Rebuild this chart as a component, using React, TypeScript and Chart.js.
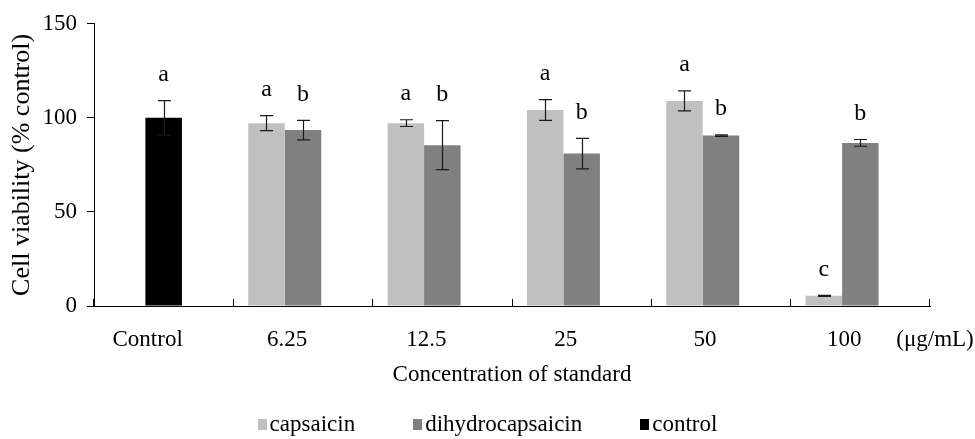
import React, { useEffect, useRef } from 'react';
import { Chart, registerables } from 'chart.js';

Chart.register(...registerables);

// Categories along the concentration axis
const categories = ['Control', '6.25', '12.5', '25', '50', '100'];

// Cell viability (% of control), mean and error per concentration
const capsaicin = [null, 97.2, 97.2, 104.2, 109.0, 5.4];
const capsaicinErr = [null, 4.0, 1.8, 5.5, 5.3, 0.3];
const capsaicinLetters = ['', 'a', 'a', 'a', 'a', 'c'];

const dihydrocapsaicin = [null, 93.5, 85.5, 81.0, 90.6, 86.7];
const dihydrocapsaicinErr = [null, 5.2, 13.0, 8.1, 0.4, 1.8];
const dihydrocapsaicinLetters = ['', 'b', 'b', 'b', 'b', 'b'];

const control = [100, null, null, null, null, null];
const controlErr = [9.2, null, null, null, null, null];
const controlLetters = ['a', '', '', '', '', ''];

const seriesNames = ['capsaicin', 'dihydrocapsaicin', 'control'];
const seriesColors = ['#c0c0c0', '#808080', '#000000'];

const yTicks = [0, 50, 100, 150];
const unitLabel = '(\u03bcg/mL)';

const FONT = "'Liberation Serif', 'Times New Roman', serif";
const TICK_SIZE = 23;
const LETTER_SIZE = 24;
const X_TICK_LEN = -7; // category ticks point up into the plot
const X_TICK_PAD = 27;

// Draws error whiskers, significance letters and the unit label
const annotatePlugin = {
  id: 'annotate',
  afterDatasetsDraw(chart: any) {
    const { ctx } = chart;
    const yScale = chart.scales.y;
    const xScale = chart.scales.x;
    ctx.save();
    chart.data.datasets.forEach((ds: any, di: number) => {
      const meta = chart.getDatasetMeta(di);
      meta.data.forEach((bar: any, i: number) => {
        const v = ds.data[i];
        if (v == null) return;
        const e = (ds.errors && ds.errors[i]) || 0;
        const yTop = yScale.getPixelForValue(v + e);
        const yBot = yScale.getPixelForValue(v - e);
        const x = Math.round(bar.x) + 0.5;
        ctx.strokeStyle = '#1a1a1a';
        ctx.lineWidth = 1.2;
        ctx.beginPath();
        ctx.moveTo(x, yTop);
        ctx.lineTo(x, yBot);
        ctx.moveTo(x - 6.5, yTop);
        ctx.lineTo(x + 6.5, yTop);
        ctx.moveTo(x - 6.5, yBot);
        ctx.lineTo(x + 6.5, yBot);
        ctx.stroke();
        const letter = ds.letters && ds.letters[i];
        if (letter) {
          ctx.fillStyle = '#000';
          ctx.font = `${LETTER_SIZE}px ${FONT}`;
          ctx.textAlign = 'center';
          ctx.textBaseline = 'middle';
          ctx.fillText(letter, bar.x, yTop - 26);
        }
      });
    });
    // unit of the concentration axis, level with the tick labels
    ctx.fillStyle = '#000';
    ctx.font = `${TICK_SIZE}px ${FONT}`;
    ctx.textAlign = 'center';
    ctx.textBaseline = 'middle';
    ctx.fillText(unitLabel, xScale.right + 5, xScale.top + X_TICK_LEN + X_TICK_PAD + (TICK_SIZE * 1.2) / 2);
    ctx.restore();
  },
};

export default function App() {
  const canvasRef = useRef<HTMLCanvasElement | null>(null);

  useEffect(() => {
    if (!canvasRef.current) return;
    const chart = new Chart(canvasRef.current, {
      type: 'bar',
      data: {
        labels: categories,
        datasets: [
          {
            label: seriesNames[0],
            data: capsaicin,
            backgroundColor: seriesColors[0],
            categoryPercentage: 0.786,
            barPercentage: 1,
            errors: capsaicinErr,
            letters: capsaicinLetters,
          } as any,
          {
            label: seriesNames[1],
            data: dihydrocapsaicin,
            backgroundColor: seriesColors[1],
            categoryPercentage: 0.786,
            barPercentage: 1,
            errors: dihydrocapsaicinErr,
            letters: dihydrocapsaicinLetters,
          } as any,
          {
            // the control stands alone in its group, so it is centred there
            label: seriesNames[2],
            data: control,
            backgroundColor: seriesColors[2],
            categoryPercentage: 0.786,
            barPercentage: 0.334,
            skipNull: true,
            errors: controlErr,
            letters: controlLetters,
          } as any,
        ],
      },
      options: {
        animation: false,
        responsive: true,
        maintainAspectRatio: false,
        layout: { padding: { top: 20, right: 45, bottom: 39, left: 0 } },
        plugins: {
          legend: { display: false },
          tooltip: { enabled: false },
        },
        scales: {
          x: {
            grid: {
              display: true,
              offset: true,
              drawOnChartArea: false,
              drawTicks: true,
              tickLength: X_TICK_LEN,
              color: '#000',
              tickColor: '#000',
              lineWidth: 1,
            },
            border: { display: true, color: '#000', width: 1 },
            ticks: {
              font: { family: FONT, size: TICK_SIZE },
              color: '#000',
              padding: X_TICK_PAD,
              labelOffset: -16,
              maxRotation: 0,
              autoSkip: false,
            },
            title: {
              display: true,
              text: 'Concentration of standard',
              font: { family: FONT, size: 23 },
              color: '#000',
              padding: { top: 0, bottom: 11 },
            },
            afterFit: (s: any) => {
              s.height = 94;
            },
          },
          y: {
            min: yTicks[0],
            max: yTicks[yTicks.length - 1],
            afterBuildTicks: (s: any) => {
              s.ticks = yTicks.map((v) => ({ value: v }));
            },
            ticks: {
              font: { family: FONT, size: TICK_SIZE },
              color: '#000',
              padding: 10,
            },
            grid: {
              drawOnChartArea: false,
              drawTicks: true,
              tickLength: 7,
              color: '#000',
              tickColor: '#000',
            },
            border: { display: true, color: '#000', width: 1 },
            title: {
              display: true,
              text: 'Cell viability (% control)',
              font: { family: FONT, size: 26 },
              color: '#000',
              padding: { top: 7, bottom: 0 },
            },
            afterFit: (s: any) => {
              s.width = 94;
            },
          },
        },
      } as any,
      plugins: [annotatePlugin],
    });
    return () => chart.destroy();
  }, []);

  return (
    <div
      style={{
        position: 'fixed',
        left: 0,
        top: 0,
        width: 975,
        height: 439,
        background: '#fff',
      }}
    >
      <div style={{ position: 'absolute', left: 0, top: 0, width: 975, height: 439 }}>
        <canvas ref={canvasRef} />
      </div>
      <div
        style={{
          position: 'absolute',
          left: 0,
          top: 411,
          width: 975,
          height: 26,
          display: 'flex',
          alignItems: 'center',
          justifyContent: 'center',
          fontFamily: FONT,
          fontSize: 23,
          lineHeight: '26px',
          color: '#000',
        }}
      >
        {seriesNames.map((name, i) => (
          <div
            key={name}
            style={{ display: 'flex', alignItems: 'center', marginLeft: i === 0 ? 0 : 58 }}
          >
            <span
              style={{
                display: 'inline-block',
                width: 9,
                height: 11,
                background: seriesColors[i],
                marginRight: 3,
              }}
            />
            <span>{name}</span>
          </div>
        ))}
      </div>
    </div>
  );
}
